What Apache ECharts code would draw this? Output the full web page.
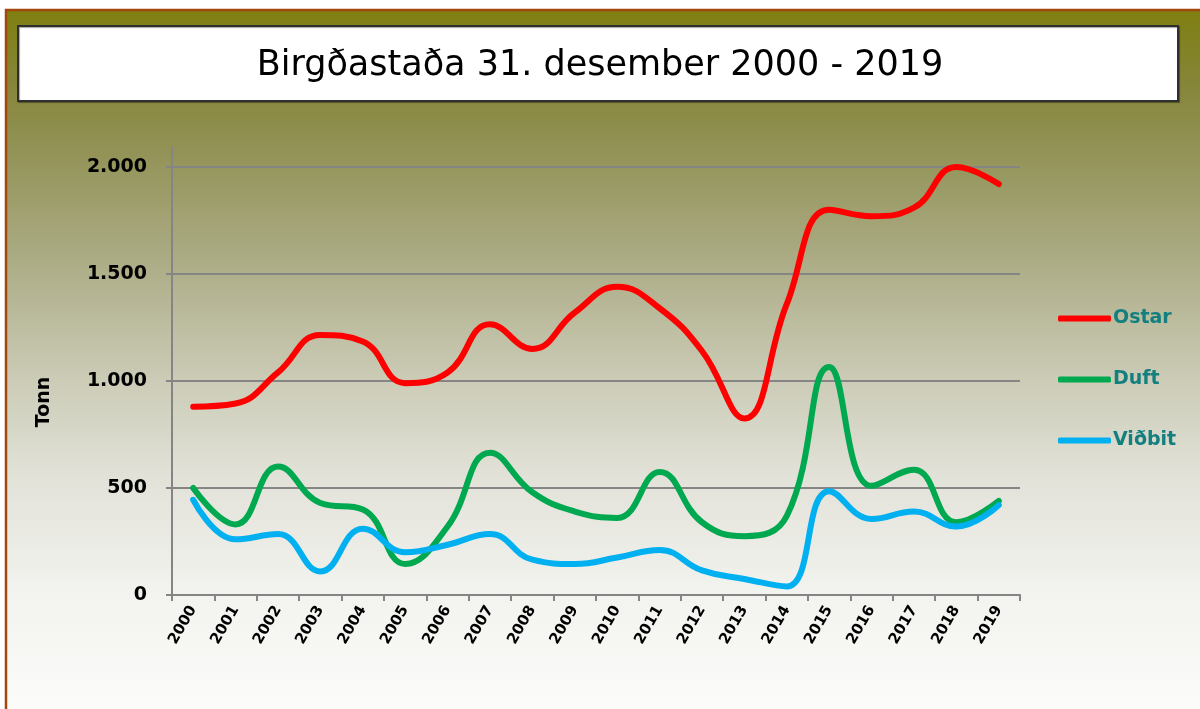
<!DOCTYPE html>
<html>
<head>
<meta charset="utf-8">
<script src="https://cdn.jsdelivr.net/npm/echarts@6/dist/echarts.min.js"></script>
<style>
html,body{margin:0;padding:0;background:#ffffff;}
#chart{width:1200px;height:709px;}
</style>
</head>
<body>
<div id="chart"></div>
<script>
const years = ['2000','2001','2002','2003','2004','2005','2006','2007','2008','2009','2010','2011','2012','2013','2014','2015','2016','2017','2018','2019'];
const ostar  = [880, 895, 1040, 1215, 1185, 990, 1040, 1265, 1150, 1320, 1440, 1340, 1140, 825, 1360, 1800, 1770, 1810, 2000, 1920];
const duft   = [500, 330, 600, 430, 400, 145, 320, 665, 480, 390, 360, 575, 340, 275, 370, 1065, 510, 585, 340, 440];
const vidbit = [445, 260, 285, 110, 310, 200, 235, 285, 165, 145, 175, 210, 115, 75, 40, 485, 355, 390, 320, 420];
const seriesNames = ['Ostar', 'Duft', 'Viðbit'];
const seriesColors = ['#ff0000', '#00a850', '#00b0f0'];
const titleText = 'Birgðastaða 31. desember 2000 - 2019';
const yName = 'Tonn';

const chart = echarts.init(document.getElementById('chart'), null, {renderer: 'canvas'});
const fmt = v => String(v).replace(/\B(?=(\d{3})+(?!\d))/g, '.');
const font = '"DejaVu Sans", Verdana, sans-serif';

const mk = (name, data, color) => ({
  name, type: 'line', data, smooth: 0.45, showSymbol: false, symbol: 'none',
  lineStyle: {color, width: 6, cap: 'round', join: 'round'},
  itemStyle: {color}, z: 5
});

chart.setOption({
  animation: false,
  textStyle: {fontFamily: font},
  graphic: [
    {type: 'rect', z: -10, silent: true,
     shape: {x: 6, y: 10, width: 1210, height: 720},
     style: {
       fill: new echarts.graphic.LinearGradient(0, 0, 0, 1, [
         {offset: 0, color: '#7f7f10'},
         {offset: 0.1, color: '#858538'},
         {offset: 0.2, color: '#939358'},
         {offset: 0.35, color: '#acac86'},
         {offset: 0.5, color: '#c9c9b3'},
         {offset: 0.65, color: '#e2e2d9'},
         {offset: 0.8, color: '#f2f2ee'},
         {offset: 1, color: '#fdfdfc'}
       ]),
       stroke: '#a2480c', lineWidth: 2.5
     }},
    {type: 'rect', z: -5, silent: true,
     shape: {x: 18, y: 26, width: 1160, height: 75},
     style: {fill: '#ffffff', stroke: '#2f2f2f', lineWidth: 2,
             shadowColor: 'rgba(0,0,0,0.35)', shadowOffsetX: 1, shadowOffsetY: 1, shadowBlur: 1}},
    {type: 'line', z: 1, silent: true,
     shape: {x1: 172, y1: 147, x2: 172, y2: 168},
     style: {stroke: '#858585', lineWidth: 2}}
  ],
  title: {
    text: titleText, left: 'center', top: 48, padding: 0,
    textStyle: {fontFamily: font, fontSize: 35, fontWeight: 'normal', color: '#000000'}
  },
  legend: {
    orient: 'vertical', left: 1058, top: 308, itemGap: 40, padding: 0,
    itemWidth: 53, itemHeight: 6, icon: 'roundRect', itemStyle: {borderWidth: 0},
    data: seriesNames,
    textStyle: {fontFamily: font, fontSize: 19, fontWeight: 'bold', color: '#137f7f', lineHeight: 21, padding: [0,0,0,-3]}
  },
  grid: {left: 172, right: 180, top: 167, bottom: 114, containLabel: false},
  xAxis: {
    type: 'category', data: years, boundaryGap: true,
    axisLine: {lineStyle: {color: '#858585', width: 2}},
    axisTick: {show: true, length: 6, lineStyle: {color: '#858585', width: 2}},
    axisLabel: {rotate: 60, margin: 12, interval: 0, fontFamily: font, fontSize: 15, fontWeight: 'bold', color: '#000000'},
    splitLine: {show: false}
  },
  yAxis: {
    type: 'value', min: 0, max: 2000, interval: 500,
    name: yName, nameLocation: 'middle', nameGap: 118,
    nameTextStyle: {fontFamily: font, fontSize: 19, fontWeight: 'bold', color: '#000000', padding: [0, 42, 0, 0]},
    axisLine: {show: true, lineStyle: {color: '#858585', width: 2}},
    axisTick: {show: true, length: 6, lineStyle: {color: '#858585', width: 2}},
    axisLabel: {margin: 25, fontFamily: font, fontSize: 19, fontWeight: 'bold', color: '#000000', formatter: fmt},
    splitLine: {show: true, lineStyle: {color: '#858585', width: 2}}
  },
  series: [
    mk(seriesNames[0], ostar, seriesColors[0]),
    mk(seriesNames[1], duft, seriesColors[1]),
    mk(seriesNames[2], vidbit, seriesColors[2])
  ]
});
</script>
</body>
</html>
